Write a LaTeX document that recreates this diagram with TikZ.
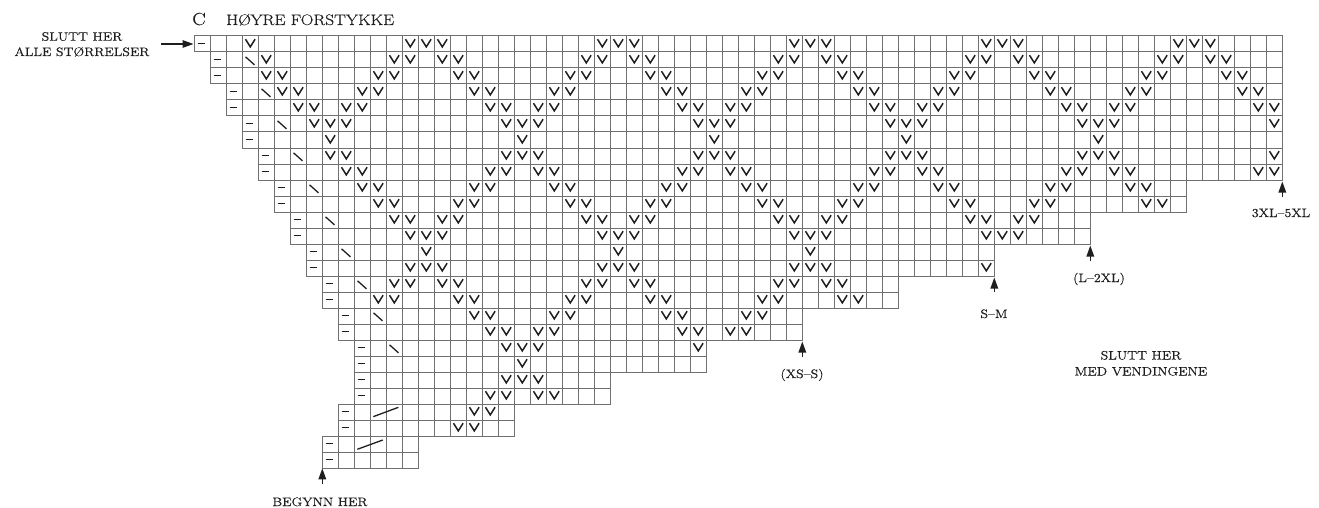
\documentclass[tikz,border=0pt]{standalone}
\usepackage{fontspec}
\setmainfont{Latin Modern Roman}[FakeStretch=1.15,FakeBold=0.35]
\usetikzlibrary{arrows.meta}
\definecolor{gridc}{RGB}{112,112,112}
\definecolor{ink}{RGB}{30,30,30}
\tikzset{
  gridline/.style={draw=gridc, line width=1pt},
  vmark/.style={draw=ink, line width=1.5pt, line join=miter},
  dashmark/.style={draw=ink, line width=1.7pt},
  slashmark/.style={draw=ink, line width=1.3pt},
  lbl/.style={font=\fontsize{12.2}{14}\selectfont, inner sep=0pt, text=ink},
  arr/.style={draw=ink, line width=1.4pt, -{Triangle[length=11pt,width=7.5pt]}},
}
\begin{document}
\begin{tikzpicture}[x=1pt,y=-1pt]
\useasboundingbox (0,0) rectangle (1319,508);
\begin{scope}[shift={(194.3,36)}, x=16pt, y=-16pt]
\foreach \rr/\rS/\rE/\rB in {0/0/68/3, 1/1/68/4, 2/1/68/4, 3/2/68/5, 4/2/68/6,
  5/3/68/7, 6/3/68/8, 7/4/68/8, 8/4/68/8, 9/5/62/9, 10/5/62/10, 11/6/56/11,
  12/6/56/12, 13/7/50/13, 14/7/50/13, 15/8/44/12, 16/8/44/11, 17/9/38/12,
  18/9/38/13, 19/10/32/14, 20/10/32/15, 21/10/26/16, 22/10/26/16, 23/9/20/16,
  24/9/20/16, 25/8/14/99, 26/8/14/99}{
  \draw[gridline] (\rS,\rr) rectangle (\rE,\rr+1);
  \pgfmathtruncatemacro\cA{\rS+1}
  \pgfmathtruncatemacro\cZ{\rE-1}
  \foreach \cx in {\cA,...,\cZ}{\draw[gridline] (\cx,\rr) -- (\cx,\rr+1);}
  \draw[dashmark] (\rS+0.21,\rr+0.46) -- (\rS+0.68,\rr+0.46);
  \pgfmathtruncatemacro\qq{mod(\rr,14)}
  \pgfmathtruncatemacro\tq{\qq<=6 ? \qq : 12-\qq}
  \ifnum\rB<\rE
    \foreach \cx in {\rB,...,\cZ}{
      \pgfmathtruncatemacro\mm{mod(\cx-2,12)}
      \pgfmathtruncatemacro\dd{min(\mm,12-\mm)}
      \pgfmathtruncatemacro\okv{(\dd>=\tq)&&(\dd<=\tq+1)}
      \ifnum\okv=1
        \draw[vmark] (\cx+0.2,\rr+0.2) -- (\cx+0.5,\rr+0.68) -- (\cx+0.8,\rr+0.2);
      \fi
    }
  \fi
}
\foreach \rr/\cx in {1/3,3/4,5/5,7/6,9/7,11/8,13/9,15/10,17/11,19/12}{
  \draw[slashmark] (\cx+0.2,\rr+0.3) -- (\cx+0.76,\rr+0.8);
}
\draw[slashmark] (11.19,23.79) -- (12.75,23.21);
\draw[slashmark] (10.19,25.83) -- (11.78,25.25);
\end{scope}
% labels
\node[lbl, font=\fontsize{17.5}{20}\selectfont, anchor=base] (lblC) at (199,25) {C};
\node[lbl, font=\fontsize{15.2}{17}\selectfont, anchor=base west] (lblTitle) at (226,25) {HØYRE FORSTYKKE};
\node[lbl, anchor=base] (lblEndA) at (82,40.7) {SLUTT HER};
\node[lbl, anchor=base] (lblEndB) at (82,56) {ALLE STØRRELSER};
\node[lbl, anchor=base] (lblStart) at (320,506) {BEGYNN HER};
\node[lbl, anchor=base] (lblXS) at (802,378) {(XS–S)};
\node[lbl, anchor=base] (lblSM) at (994,318) {S–M};
\node[lbl, anchor=base] (lblL) at (1099,282) {(L–2XL)};
\node[lbl, anchor=base] (lblXL) at (1281,217) {3XL–5XL};
\node[lbl, anchor=base] (lblTurnA) at (1141,359.5) {SLUTT HER};
\node[lbl, anchor=base] (lblTurnB) at (1141,375.5) {MED VENDINGENE};
% arrows
\coordinate (aLt) at (161,44); \coordinate (aLh) at (193.5,44);
\coordinate (aBt) at (322.3,484); \coordinate (aBh) at (322.3,468.3);
\coordinate (aXt) at (802.3,357); \coordinate (aXh) at (802.3,341.5);
\coordinate (aSt) at (994.3,292); \coordinate (aSh) at (994.3,277.5);
\coordinate (aLLt) at (1090.3,261); \coordinate (aLLh) at (1090.3,245.5);
\coordinate (aXLt) at (1282.3,197); \coordinate (aXLh) at (1282.3,181.5);
\draw[arr] (aLt) -- (aLh);
\draw[arr] (aBt) -- (aBh);
\draw[arr] (aXt) -- (aXh);
\draw[arr] (aSt) -- (aSh);
\draw[arr] (aLLt) -- (aLLh);
\draw[arr] (aXLt) -- (aXLh);
\end{tikzpicture}
\end{document}
